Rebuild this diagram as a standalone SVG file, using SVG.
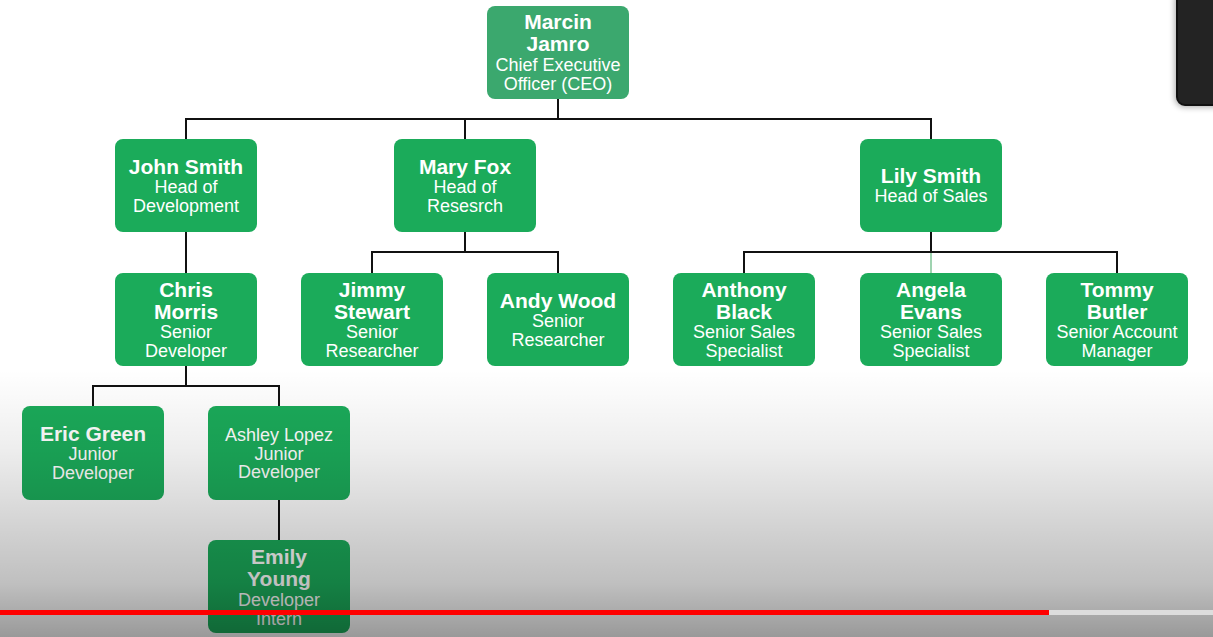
<svg xmlns="http://www.w3.org/2000/svg" width="1213" height="637" viewBox="0 0 1213 637">
<defs>
<linearGradient id="fade" x1="0" y1="0" x2="0" y2="1">
<stop offset="0" stop-color="#000" stop-opacity="0"/>
<stop offset="0.3" stop-color="#000" stop-opacity="0.07"/>
<stop offset="0.8" stop-color="#000" stop-opacity="0.25"/>
<stop offset="1" stop-color="#000" stop-opacity="0.4"/>
</linearGradient>
<filter id="sh" x="-50%" y="-20%" width="200%" height="150%">
<feGaussianBlur stdDeviation="3"/>
</filter>
<style>
.box{fill:#1bab5a}
.ceo{fill:#3ba86e}
.n{font-family:"Liberation Sans",Arial,sans-serif;font-weight:bold;font-size:21px;fill:#fff;text-anchor:middle}
.t{font-family:"Liberation Sans",Arial,sans-serif;font-size:18px;fill:#fff;text-anchor:middle}
.c{fill:none;stroke:#111;stroke-width:2}
</style>
</defs>
<rect width="1213" height="637" fill="#fff"/>
<g id="connectors">
<path class="c" d="M558 99V119M186 139V119H931V139M465 119V139"/>
<path class="c" d="M186 232V273"/>
<path class="c" d="M465 232V252M372 273V252H558V273"/>
<path class="c" d="M931 232V252M744 273V252H1117V273"/>
<path d="M931 253V273" stroke="#9fd3b0" stroke-width="2"/>
<path class="c" d="M186 366V386M93 406V386H279V406"/>
<path class="c" d="M279 500V540"/>
</g>
<g id="ceo"><rect class="ceo" x="487" y="6" width="142" height="93" rx="8"/>
<text class="n" x="558" y="29">Marcin</text><text class="n" x="558" y="51">Jamro</text>
<text class="t" x="558" y="71">Chief Executive</text><text class="t" x="558" y="90">Officer (CEO)</text></g>
<g id="john"><rect class="box" x="115" y="139" width="142" height="93" rx="8"/>
<text class="n" x="186" y="174">John Smith</text><text class="t" x="186" y="193">Head of</text><text class="t" x="186" y="212">Development</text></g>
<g id="mary"><rect class="box" x="394" y="139" width="142" height="93" rx="8"/>
<text class="n" x="465" y="174">Mary Fox</text><text class="t" x="465" y="193">Head of</text><text class="t" x="465" y="212">Resesrch</text></g>
<g id="lily"><rect class="box" x="860" y="139" width="142" height="93" rx="8"/>
<text class="n" x="931" y="183">Lily Smith</text><text class="t" x="931" y="202">Head of Sales</text></g>
<g id="chris"><rect class="box" x="115" y="273" width="142" height="93" rx="8"/>
<text class="n" x="186" y="297">Chris</text><text class="n" x="186" y="319">Morris</text>
<text class="t" x="186" y="338">Senior</text><text class="t" x="186" y="357">Developer</text></g>
<g id="jimmy"><rect class="box" x="301" y="273" width="142" height="93" rx="8"/>
<text class="n" x="372" y="297">Jimmy</text><text class="n" x="372" y="319">Stewart</text>
<text class="t" x="372" y="338">Senior</text><text class="t" x="372" y="357">Researcher</text></g>
<g id="andy"><rect class="box" x="487" y="273" width="142" height="93" rx="8"/>
<text class="n" x="558" y="308">Andy Wood</text><text class="t" x="558" y="327">Senior</text><text class="t" x="558" y="346">Researcher</text></g>
<g id="anthony"><rect class="box" x="673" y="273" width="142" height="93" rx="8"/>
<text class="n" x="744" y="297">Anthony</text><text class="n" x="744" y="319">Black</text>
<text class="t" x="744" y="338">Senior Sales</text><text class="t" x="744" y="357">Specialist</text></g>
<g id="angela"><rect class="box" x="860" y="273" width="142" height="93" rx="8"/>
<text class="n" x="931" y="297">Angela</text><text class="n" x="931" y="319">Evans</text>
<text class="t" x="931" y="338">Senior Sales</text><text class="t" x="931" y="357">Specialist</text></g>
<g id="tommy"><rect class="box" x="1046" y="273" width="142" height="93" rx="8"/>
<text class="n" x="1117" y="297">Tommy</text><text class="n" x="1117" y="319">Butler</text>
<text class="t" x="1117" y="338">Senior Account</text><text class="t" x="1117" y="357">Manager</text></g>
<g id="eric"><rect class="box" x="22" y="406" width="142" height="94" rx="8"/>
<text class="n" x="93" y="441">Eric Green</text><text class="t" x="93" y="460">Junior</text><text class="t" x="93" y="479">Developer</text></g>
<g id="ashley"><rect class="box" x="208" y="406" width="142" height="94" rx="8"/>
<text class="t" x="279" y="441">Ashley Lopez</text><text class="t" x="279" y="460">Junior</text><text class="t" x="279" y="478">Developer</text></g>
<g id="emily"><rect class="box" x="208" y="540" width="142" height="93" rx="8"/>
<text class="n" x="279" y="564">Emily</text><text class="n" x="279" y="586">Young</text>
<text class="t" x="279" y="606">Developer</text><text class="t" x="279" y="625">Intern</text></g>
<rect x="0" y="370" width="1213" height="267" fill="url(#fade)"/>
<rect x="1049" y="610" width="164" height="5" fill="#ddd"/>
<rect x="0" y="610" width="1049" height="5" fill="#f00"/>
<rect x="1175" y="-10" width="50" height="117" rx="9" fill="#000" opacity="0.35" filter="url(#sh)"/>
<rect x="1177" y="-10" width="46" height="115" rx="8" fill="#232323" stroke="#111" stroke-width="2"/>
</svg>
